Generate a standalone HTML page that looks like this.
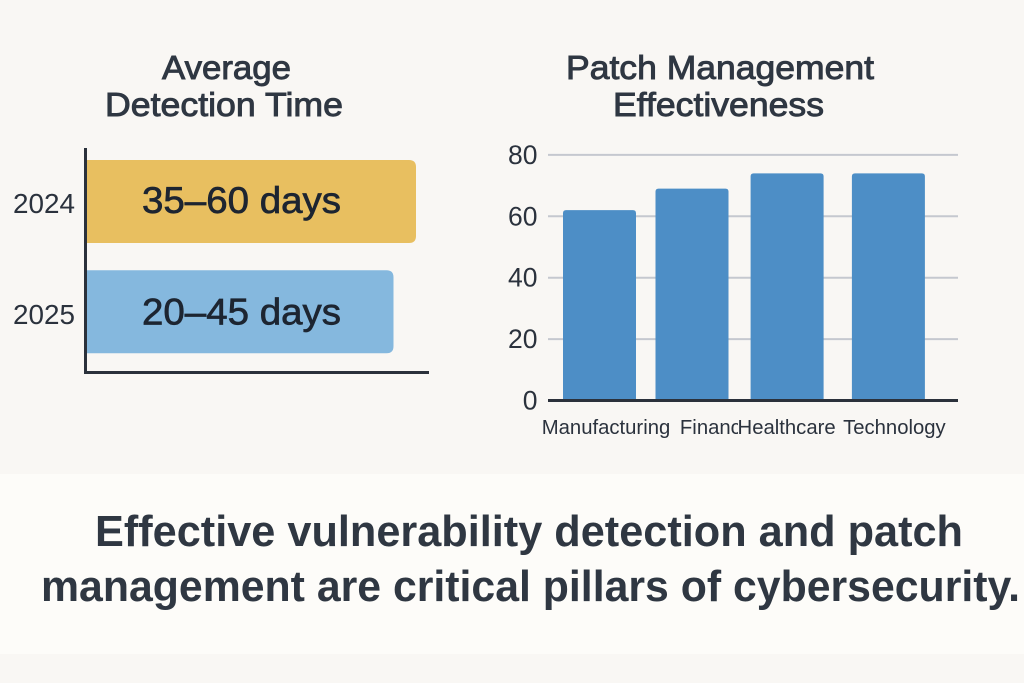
<!DOCTYPE html>
<html lang="en">
<head>
<meta charset="utf-8">
<title>Detection Time and Patch Management</title>
<style>
  html, body { margin: 0; padding: 0; background: #f9f7f4; }
  svg { display: block; font-family: "Liberation Sans", sans-serif; }
  .title { font-size: 33px; font-weight: 400; fill: #2f3742; stroke: #2f3742; stroke-width: 0.9px; }
  .tick { fill: #2b323d; }
  .foot { font-size: 44px; font-weight: 700; fill: #2f3742; }
</style>
</head>
<body>
<svg id="chart" xmlns="http://www.w3.org/2000/svg" width="1024" height="683" viewBox="0 0 1024 683">
  <defs>
    <clipPath id="finance-clip"><rect x="670" y="410" width="68" height="40"></rect></clipPath>
  </defs>
  <rect x="0" y="0" width="1024" height="683" fill="#f9f7f4"></rect>
  <rect x="0" y="474" width="1024" height="180" fill="#fdfcf9"></rect>

  <text class="title" x="162" y="79" textLength="129" lengthAdjust="spacingAndGlyphs">Average</text>
  <text class="title" x="105" y="116" textLength="238" lengthAdjust="spacingAndGlyphs">Detection Time</text>
  <text class="title" x="566" y="79" textLength="308" lengthAdjust="spacingAndGlyphs">Patch Management</text>
  <text class="title" x="613" y="116" textLength="211" lengthAdjust="spacingAndGlyphs">Effectiveness</text>

  <g id="left-chart"></g>
  <g id="right-chart"></g>

  <text class="foot" x="95" y="546" textLength="868" lengthAdjust="spacingAndGlyphs">Effective vulnerability detection and patch</text>
  <text class="foot" x="41" y="601" textLength="979" lengthAdjust="spacingAndGlyphs">management are critical pillars of cybersecurity.</text>
</svg>
<script>
// Detection time data
const detectionYears = ["2024", "2025"];
const detectionLow = [35, 20];
const detectionHigh = [60, 45];
const detectionColors = ["#e8bf60", "#85b8de"];

// Patch management data
const patchCategories = ["Manufacturing", "Finance", "Healthcare", "Technology"];
const patchValues = [62, 69, 74, 74];
const patchTicks = [0, 20, 40, 60, 80];

const NS = "http://www.w3.org/2000/svg";
function make(tag, attrs, parent, text) {
  const el = document.createElementNS(NS, tag);
  for (const k in attrs) el.setAttribute(k, attrs[k]);
  if (text !== undefined) el.textContent = text;
  parent.appendChild(el);
  return el;
}

/* ---------- left chart ---------- */
const left = document.getElementById("left-chart");
const daysBase = 87;
function xDays(v) { return 326 + 1.5 * v; }
function yRow(i) { return 160 + i * 110.3; }
const rowHeight = 83;
const r = 7;
const valueLabelWidth = 199;

detectionYears.forEach(function (year, i) {
  const y0 = yRow(i), y1 = y0 + rowHeight, x1 = xDays(detectionHigh[i]);
  const bar = make("path", {
    d: "M" + daysBase + " " + y0 + "H" + (x1 - r) + "Q" + x1 + " " + y0 + " " + x1 + " " + (y0 + r) +
       "V" + (y1 - r) + "Q" + x1 + " " + y1 + " " + (x1 - r) + " " + y1 + "H" + daysBase + "Z",
    fill: detectionColors[i]
  }, left);
  
  

  const label = make("text", {
    x: 142, y: y0 + 53 + i * 1,
    "font-size": 37, fill: "#1d2531", stroke: "#1d2531", "stroke-width": 0.7,
    textLength: valueLabelWidth, lengthAdjust: "spacingAndGlyphs"
  }, left, detectionLow[i] + "\u2013" + detectionHigh[i] + " days");
  
  

  const tick = make("text", {
    class: "tick", x: 13, y: y0 + 53 + i * 0.7, "font-size": 28,
    textLength: 62, lengthAdjust: "spacingAndGlyphs"
  }, left, year);
  
  
});

const yAxisLeft = make("line", { x1: 85.5, y1: 148, x2: 85.5, y2: 373.5, stroke: "#2b313b", "stroke-width": 3 }, left);


const xAxisLeft = make("line", { x1: 84, y1: 372.5, x2: 429, y2: 372.5, stroke: "#2b313b", "stroke-width": 3 }, left);



/* ---------- right chart ---------- */
const right = document.getElementById("right-chart");
function yScale(v) { return 400.5 - v * 3.07; }
function xBand(i) { return 599.5 + i * 96.3 + [0, -3.8, -5, 0][i]; }
const bandWidth = 73;
const labelShift = [6.5, 24, -0.5, 6];

patchTicks.forEach(function (t) {
  if (t !== 0) {
    const g = make("line", { x1: 548, x2: 958, y1: yScale(t), y2: yScale(t), stroke: "#c5c8cf", "stroke-width": 2 }, right);
    
    
  }
  const lab = make("text", {
    class: "tick", x: 537.5, y: yScale(t) + 9, "text-anchor": "end", "font-size": 26.5
  }, right, String(t));
  
  
});

patchCategories.forEach(function (c, i) {
  const x = xBand(i) - bandWidth / 2, y = yScale(patchValues[i]);
  const bar = make("path", {
    d: "M" + x + " 400V" + (y + 3) + "Q" + x + " " + y + " " + (x + 3) + " " + y +
       "H" + (x + bandWidth - 3) + "Q" + (x + bandWidth) + " " + y + " " + (x + bandWidth) + " " + (y + 3) + "V400Z",
    fill: "#4d8ec6"
  }, right);
  
  
});

const baseline = make("line", { x1: 548, x2: 958, y1: yScale(0), y2: yScale(0), stroke: "#2b313b", "stroke-width": 3 }, right);



patchCategories.forEach(function (c, i) {
  const attrs = {
    class: "tick", x: xBand(i) + labelShift[i], y: 434, "text-anchor": "middle", "font-size": 20.3
  };
  if (c === "Finance") attrs["clip-path"] = "url(#finance-clip)";
  const lab = make("text", attrs, right, c);
  
  
});
</script>
</body>
</html>
